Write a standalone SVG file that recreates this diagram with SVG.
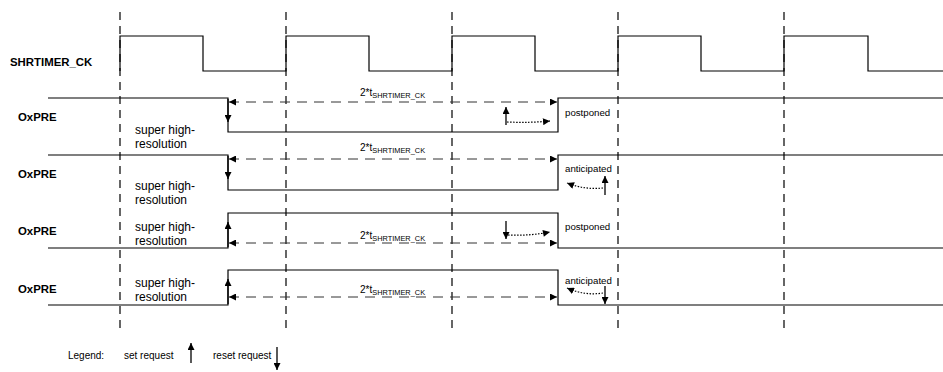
<svg xmlns="http://www.w3.org/2000/svg" width="943" height="372" viewBox="0 0 943 372">
<defs>
<style>
.sig{fill:none;stroke:#000;stroke-width:1.2}
.grid{fill:none;stroke:#000;stroke-width:1.2;stroke-dasharray:8,6}
.dim{fill:none;stroke:#333;stroke-width:1;stroke-dasharray:10,7}
.req{fill:none;stroke:#000;stroke-width:1.3}
.dot{fill:none;stroke:#000;stroke-width:1.2;stroke-dasharray:1.5,1.5}
.lbl{font-family:"Liberation Sans",Arial,sans-serif;font-weight:bold;font-size:11.4px;fill:#000}
.txt{font-family:"Liberation Sans",Arial,sans-serif;font-size:12px;fill:#000}
.sm{font-family:"Liberation Sans",Arial,sans-serif;font-size:9.7px;fill:#000}
.dl{font-family:"Liberation Sans",Arial,sans-serif;font-size:10px;fill:#000}
.sub{font-size:7.4px}
.lg{font-family:"Liberation Sans",Arial,sans-serif;font-size:10px;fill:#000}
</style>
<marker id="ah" viewBox="0 0 10 10" refX="10" refY="5" markerWidth="7.5" markerHeight="7" orient="auto-start-reverse" markerUnits="userSpaceOnUse">
<path d="M0,0 L10,5 L0,10 z" fill="#000"/>
</marker>
</defs>
<rect width="943" height="372" fill="#fff"/>

<g id="grid">
<line class="grid" x1="120" y1="12" x2="120" y2="334"/>
<line class="grid" x1="286" y1="12" x2="286" y2="334"/>
<line class="grid" x1="452" y1="12" x2="452" y2="334"/>
<line class="grid" x1="618" y1="12" x2="618" y2="334"/>
<line class="grid" x1="784" y1="12" x2="784" y2="334"/>
</g>

<g id="clock">
<text class="lbl" x="10" y="66">SHRTIMER_CK</text>
<path class="sig" d="M120,71 V36 H203 V71 H286 V36 H369 V71 H452 V36 H535 V71 H618 V36 H701 V71 H784 V36 H868 V71 H943"/>
</g>

<g id="row1">
<text class="lbl" x="18" y="121">OxPRE</text>
<path class="sig" d="M48,98 H228 V132 H558 V98 H943"/>
<text class="txt" x="135" y="134">super high-</text>
<text class="txt" x="135" y="148">resolution</text>
<text class="sm" x="565" y="116">postponed</text>
<text class="dl" x="360" y="96">2*t<tspan class="sub" dy="2">SHRTIMER_CK</tspan></text>
</g>

<g id="row2">
<text class="lbl" x="18" y="178">OxPRE</text>
<path class="sig" d="M48,155 H228 V190 H558 V155 H943"/>
<text class="txt" x="135" y="190">super high-</text>
<text class="txt" x="135" y="204">resolution</text>
<text class="sm" x="565" y="172">anticipated</text>
<text class="dl" x="360" y="151">2*t<tspan class="sub" dy="2">SHRTIMER_CK</tspan></text>
</g>

<g id="row3">
<text class="lbl" x="18" y="235">OxPRE</text>
<path class="sig" d="M48,248 H228 V213 H558 V248 H943"/>
<text class="txt" x="135" y="231">super high-</text>
<text class="txt" x="135" y="245">resolution</text>
<text class="sm" x="565" y="230">postponed</text>
<text class="dl" x="360" y="239">2*t<tspan class="sub" dy="2">SHRTIMER_CK</tspan></text>
</g>

<g id="row4">
<text class="lbl" x="18" y="293">OxPRE</text>
<path class="sig" d="M48,305 H228 V270 H558 V305 H943"/>
<text class="txt" x="135" y="287">super high-</text>
<text class="txt" x="135" y="301">resolution</text>
<text class="sm" x="565" y="284">anticipated</text>
<text class="dl" x="360" y="293">2*t<tspan class="sub" dy="2">SHRTIMER_CK</tspan></text>
</g>

<g id="connectors">
<line class="dim" x1="229" y1="102" x2="557" y2="102" marker-start="url(#ah)" marker-end="url(#ah)"/>
<line class="dim" x1="229" y1="159" x2="557" y2="159" marker-start="url(#ah)" marker-end="url(#ah)"/>
<line class="dim" x1="229" y1="243" x2="557" y2="243" marker-start="url(#ah)" marker-end="url(#ah)"/>
<line class="dim" x1="229" y1="297" x2="557" y2="297" marker-start="url(#ah)" marker-end="url(#ah)"/>

<line class="req" x1="228" y1="99" x2="228" y2="122" marker-end="url(#ah)"/>
<line class="req" x1="228" y1="156" x2="228" y2="179" marker-end="url(#ah)"/>
<line class="req" x1="228" y1="247" x2="228" y2="222" marker-end="url(#ah)"/>
<line class="req" x1="228" y1="304" x2="228" y2="279" marker-end="url(#ah)"/>

<line class="req" x1="506" y1="125" x2="506" y2="107" marker-end="url(#ah)"/>
<path class="dot" d="M507,122 Q530,123 550,121" marker-end="url(#ah)"/>

<line class="req" x1="605" y1="195" x2="605" y2="176" marker-end="url(#ah)"/>
<path class="dot" d="M603,188 Q585,190 567,183" marker-end="url(#ah)"/>

<line class="req" x1="506" y1="221" x2="506" y2="239" marker-end="url(#ah)"/>
<path class="dot" d="M508,235 Q530,236 550,232" marker-end="url(#ah)"/>

<line class="req" x1="605" y1="286" x2="605" y2="304" marker-end="url(#ah)"/>
<path class="dot" d="M603,293 Q585,296 567,288" marker-end="url(#ah)"/>
</g>

<g id="legend">
<text class="lg" x="68" y="359">Legend:</text>
<text class="lg" x="124" y="359">set request</text>
<line class="req" x1="191" y1="363" x2="191" y2="343" marker-end="url(#ah)"/>
<text class="lg" x="213" y="359">reset request</text>
<line class="req" x1="277" y1="347" x2="277" y2="370" marker-end="url(#ah)"/>
</g>
</svg>
